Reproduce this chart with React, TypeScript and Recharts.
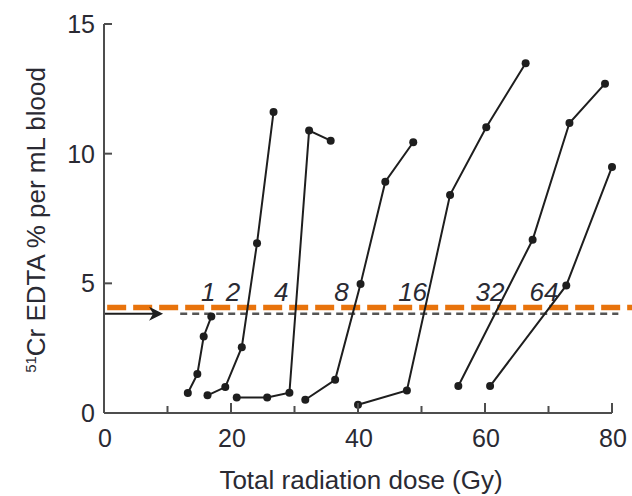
import React from 'react';
import { ComposedChart, Scatter, XAxis, YAxis, ReferenceLine } from 'recharts';

const series1 = [
  { dose: 13.2, edta: 0.77 },
  { dose: 14.7, edta: 1.5 },
  { dose: 15.7, edta: 2.95 },
  { dose: 16.9, edta: 3.72 },
];
const series2 = [
  { dose: 16.3, edta: 0.68 },
  { dose: 19.1, edta: 1.0 },
  { dose: 21.7, edta: 2.54 },
  { dose: 24.1, edta: 6.55 },
  { dose: 26.7, edta: 11.61 },
];
const series4 = [
  { dose: 20.9, edta: 0.6 },
  { dose: 25.7, edta: 0.6 },
  { dose: 29.2, edta: 0.78 },
  { dose: 32.3, edta: 10.89 },
  { dose: 35.7, edta: 10.5 },
];
const series8 = [
  { dose: 31.7, edta: 0.51 },
  { dose: 36.4, edta: 1.28 },
  { dose: 40.4, edta: 4.97 },
  { dose: 44.3, edta: 8.92 },
  { dose: 48.7, edta: 10.44 },
];
const series16 = [
  { dose: 40.0, edta: 0.32 },
  { dose: 47.7, edta: 0.87 },
  { dose: 54.5, edta: 8.41 },
  { dose: 60.2, edta: 11.02 },
  { dose: 66.4, edta: 13.49 },
];
const series32 = [
  { dose: 55.8, edta: 1.04 },
  { dose: 67.5, edta: 6.68 },
  { dose: 73.3, edta: 11.18 },
  { dose: 78.9, edta: 12.7 },
];
const series64 = [
  { dose: 60.8, edta: 1.04 },
  { dose: 72.8, edta: 4.92 },
  { dose: 80.0, edta: 9.49 },
];

const allSeries = [series1, series2, series4, series8, series16, series32, series64];

const seriesLabels = [
  { dose: 16.4, edta: 4.33, text: '1' },
  { dose: 20.3, edta: 4.33, text: '2' },
  { dose: 27.9, edta: 4.33, text: '4' },
  { dose: 37.4, edta: 4.33, text: '8' },
  { dose: 48.6, edta: 4.33, text: '16' },
  { dose: 60.8, edta: 4.33, text: '32' },
  { dose: 69.3, edta: 4.33, text: '64' },
];

const xTicks = [0, 10, 20, 30, 40, 50, 60, 70, 80];
const xLabeled = [0, 20, 40, 60, 80];
const yTicks = [0, 5, 10, 15];

const thresholdLevel = 4.07;
const normalLevel = 3.83;
const arrowTip = [{ dose: 9.3, edta: 3.83 }];

const FONT = '"Liberation Sans", Arial, Helvetica, sans-serif';
const TEXT = '#2a2a33';
const AXIS = '#4d4d4d';
const INK = '#1e1e1e';

const XTick = (props: any) => {
  const { x, y, payload } = props;
  const v = payload.value;
  const major = xLabeled.includes(v);
  return (
    <g>
      {v !== 0 && (
        <line x1={x} x2={x} y1={y} y2={y - (major ? 10 : 7)} stroke={AXIS} strokeWidth={2} />
      )}
      {major && (
        <text x={x + 1} y={y + 34} textAnchor="middle" fontSize={25} fontFamily={FONT} fill={TEXT}>
          {v}
        </text>
      )}
    </g>
  );
};

const YTick = (props: any) => {
  const { x, y, payload } = props;
  const v = payload.value;
  return (
    <g>
      {v !== 0 && <line x1={x} x2={x + 8} y1={y} y2={y} stroke={AXIS} strokeWidth={2} />}
      <text x={x - 9} y={y} dy="0.36em" textAnchor="end" fontSize={25} fontFamily={FONT} fill={TEXT}>
        {v}
      </text>
    </g>
  );
};

const Dot = (props: any) => <circle cx={props.cx} cy={props.cy} r={4} fill={INK} />;

const LabelShape = (props: any) => (
  <text
    x={props.cx}
    y={props.cy}
    textAnchor="middle"
    fontSize={26}
    fontStyle="italic"
    fontFamily={FONT}
    fill={TEXT}
  >
    {props.payload.text}
  </text>
);

const ArrowHead = (props: any) => {
  const { cx, cy } = props;
  return (
    <path
      d={`M ${cx} ${cy} L ${cx - 14} ${cy - 7} L ${cx - 10} ${cy} L ${cx - 14} ${cy + 7} Z`}
      fill={INK}
    />
  );
};

const YLabel = () => (
  <text
    x={0}
    y={0}
    transform="translate(45, 220) rotate(-90)"
    textAnchor="middle"
    fontSize={26}
    fontFamily={FONT}
    fill={TEXT}
  >
    <tspan fontSize={15} dy={-9}>51</tspan>
    <tspan dy={9}>Cr EDTA % per mL blood</tspan>
  </text>
);

const XLabel = () => (
  <text x={361} y={489} textAnchor="middle" fontSize={26} fontFamily={FONT} fill={TEXT}>
    Total radiation dose (Gy)
  </text>
);

export default function App() {
  return (
    <div style={{ position: 'absolute', left: 0, top: 0, width: 632, height: 496, background: '#fff' }}>
      <ComposedChart width={632} height={496} margin={{ top: 24, right: 20, bottom: 0, left: 0 }}>
        <XAxis
          type="number"
          dataKey="dose"
          domain={[0, 80]}
          ticks={xTicks}
          height={83}
          tickSize={0}
          tickMargin={0}
          tickLine={false}
          tick={<XTick />}
          axisLine={{ stroke: AXIS, strokeWidth: 2 }}
          interval={0}
          label={<XLabel />}
        />
        <YAxis
          type="number"
          dataKey="edta"
          domain={[0, 15]}
          ticks={yTicks}
          width={104}
          tickSize={0}
          tickMargin={0}
          tickLine={false}
          tick={<YTick />}
          axisLine={{ stroke: AXIS, strokeWidth: 2 }}
          interval={0}
          label={<YLabel />}
        />
        <ReferenceLine
          segment={[
            { x: 12.0, y: normalLevel },
            { x: 81.0, y: normalLevel },
          ]}
          stroke="#555"
          strokeWidth={2.5}
          strokeDasharray="7 5"
          ifOverflow="visible"
        />
        <ReferenceLine
          segment={[
            { x: 0, y: normalLevel },
            { x: 8.5, y: normalLevel },
          ]}
          stroke={INK}
          strokeWidth={2}
          ifOverflow="visible"
        />
        <ReferenceLine
          segment={[
            { x: 0.5, y: thresholdLevel },
            { x: 83.6, y: thresholdLevel },
          ]}
          stroke="#e8730c"
          strokeWidth={5.5}
          strokeDasharray="19 7"
          ifOverflow="visible"
        />
        {allSeries.map((s, i) => (
          <Scatter
            key={i}
            data={s}
            line={{ stroke: INK, strokeWidth: 2 }}
            shape={<Dot />}
            isAnimationActive={false}
          />
        ))}
        <Scatter data={arrowTip} shape={<ArrowHead />} isAnimationActive={false} />
        <Scatter data={seriesLabels} shape={<LabelShape />} isAnimationActive={false} />
      </ComposedChart>
    </div>
  );
}
